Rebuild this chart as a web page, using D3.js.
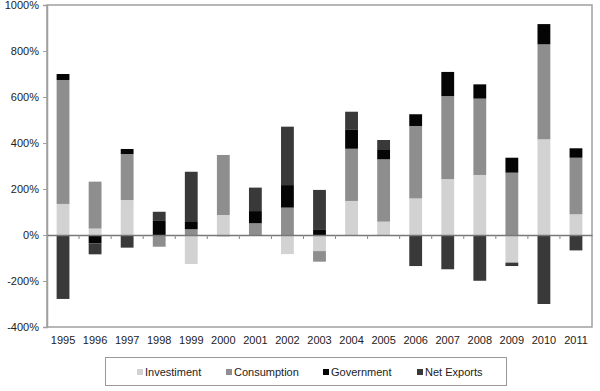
<!DOCTYPE html>
<html><head><meta charset="utf-8">
<script src="https://cdn.jsdelivr.net/npm/d3@7"></script>
<style>body{margin:0;background:#fff}svg{display:block;font-family:Arial,"Liberation Sans",sans-serif}</style>
</head><body><svg id="c" width="600" height="391"></svg>
<script>
const years = ["1995","1996","1997","1998","1999","2000","2001","2002","2003","2004","2005","2006","2007","2008","2009","2010","2011"];
const investment  = [135, 28, 152, 0, -126, 87, 0, -83, -70, 148, 58, 159, 243, 261, -120, 416, 90];
const consumption = [539, 204, 200, -51, 25, 261, 51, 119, -46, 227, 271, 315, 361, 332, 271, 413, 246];
const government  = [26, -37, 22, 64, 35, -5, 53, 98, 22, 82, 44, 51, 105, 62, 65, 88, 41];
const netExports  = [-278, -47, -55, 37, 215, 0, 102, 254, 174, 79, 40, -135, -149, -199, -15, -300, -67];
const seriesNames = ["Investiment","Consumption","Government","Net Exports"];
const seriesData = [investment, consumption, government, netExports];
const colors = ["#d2d2d2","#8e8e8e","#050505","#393939"];
const yTicks = [-400,-200,0,200,400,600,800,1000];

const svg = d3.select("#c");
const m = {l:47, r:8, t:5, b:64};
const W = 600, H = 391;
const x = d3.scaleBand().domain(years).range([m.l, W-m.r]).paddingInner(0.6).paddingOuter(0.3);
const xb = d3.scaleBand().domain(years).range([m.l, W-m.r]);
const y = d3.scaleLinear().domain([-400,1000]).range([H-m.b, m.t]);

// plot border
svg.append("rect").attr("x",m.l).attr("y",m.t).attr("width",W-m.r-m.l).attr("height",H-m.b-m.t)
  .attr("fill","none").attr("stroke","#a0a0a0").attr("stroke-width",1.5);

// stacked bars (Excel style: positives up, negatives down, in series order)
years.forEach((yr,i)=>{
  let pos=0, neg=0;
  seriesData.forEach((s,k)=>{
    const v=s[i]; if(!v) return;
    let y0,y1;
    if(v>0){y0=pos;y1=pos+v;pos=y1;} else {y0=neg;y1=neg+v;neg=y1;}
    svg.append("rect").attr("x",x(yr)).attr("width",x.bandwidth())
      .attr("y",y(Math.max(y0,y1))).attr("height",Math.abs(y(y0)-y(y1)))
      .attr("fill",colors[k]);
  });
});

// y axis
const ya = svg.append("g").attr("transform",`translate(${m.l},0)`)
  .call(d3.axisLeft(y).tickValues(yTicks).tickFormat(d=>d+"%").tickSize(4).tickPadding(4));
ya.select(".domain").attr("stroke","#a0a0a0").attr("stroke-width",1.5);
ya.selectAll(".tick line").attr("stroke","#a0a0a0");
ya.selectAll("text").attr("font-size",11).attr("fill","#222");

// zero line with category ticks
const za = svg.append("g").attr("transform",`translate(0,${y(0)})`)
  .call(d3.axisBottom(xb).tickValues([]).tickSizeOuter(0));
za.select(".domain").attr("stroke","#777").attr("stroke-width",1.5);
svg.append("g").selectAll("line").data(years.slice(1)).join("line")
  .attr("x1",d=>xb(d)).attr("x2",d=>xb(d)).attr("y1",y(0)).attr("y2",y(0)+4).attr("stroke","#888");

// x labels
svg.append("g").attr("transform",`translate(0,${H-m.b})`)
  .call(d3.axisBottom(xb).tickSize(0).tickPadding(9))
  .call(g=>g.select(".domain").remove())
  .selectAll("text").attr("font-size",11).attr("fill","#222");

// legend
svg.append("rect").attr("x",105.5).attr("y",357.5).attr("width",401).attr("height",28)
  .attr("fill","#fff").attr("stroke","#999");
const lx=[137,226,323,417];
seriesNames.forEach((n,k)=>{
  svg.append("rect").attr("x",lx[k]).attr("y",369).attr("width",6).attr("height",6).attr("fill",colors[k]);
  svg.append("text").attr("x",lx[k]+8).attr("y",376).attr("font-size",11).attr("fill","#222").text(n);
});
</script></body></html>
